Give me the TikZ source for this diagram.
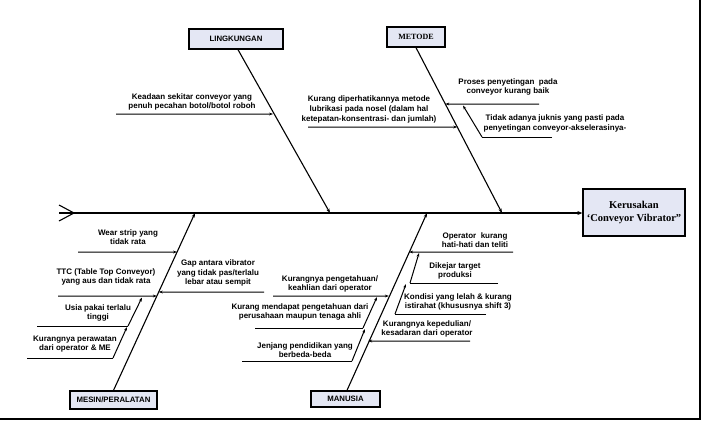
\documentclass[tikz,border=0pt]{standalone}
\usepackage{fontspec}
\setmainfont{Liberation Serif}
\setsansfont{Liberation Sans}
\usetikzlibrary{arrows.meta}
\definecolor{boxfill}{RGB}{228,231,244}
\begin{document}
\begin{tikzpicture}[x=1pt,y=-1pt,
  lbl/.style={font=\sffamily\bfseries\fontsize{8}{9.6}\selectfont, align=center, inner sep=0pt},
  cat/.style={draw, line width=1.3pt, fill=boxfill, font=\sffamily\bfseries\fontsize{7.8}{9}\selectfont, inner sep=0pt},
  bone/.style={line width=1.1pt, -{Stealth[length=4.5pt,width=3.2pt]}},
  sub/.style={line width=1pt, -{Stealth[length=4pt,width=2.8pt]}},
  plain/.style={line width=1pt}]
\useasboundingbox (0,0) rectangle (702,421);
% frame
\coordinate (f0) at (0,419);
\coordinate (f1) at (700,419);
\coordinate (f2) at (700,0);
\draw[line width=1.6pt] (f0) -- (f1) -- (f2);

% boxes
\node[cat, minimum width=94pt, minimum height=20pt] (ling) at (236,39) {LINGKUNGAN};
\node[cat, minimum width=58pt, minimum height=20pt, font=\rmfamily\bfseries\fontsize{8}{9}\selectfont] (met) at (416,37) {METODE};
\node[cat, minimum width=87pt, minimum height=18pt] (mes) at (113.5,400) {MESIN/PERALATAN};
\node[cat, minimum width=69pt, minimum height=16pt] (man) at (345.5,399) {MANUSIA};
\node[cat, minimum width=102pt, minimum height=47pt, align=center, font=\rmfamily\bfseries\fontsize{10.5}{13}\selectfont] (eff) at (634,212.5) {Kerusakan\\‘Conveyor Vibrator”};

% spine
\coordinate (tail) at (59,213);
\coordinate (ta) at (59,205);
\coordinate (tv) at (74,213);
\coordinate (tb) at (59,221);
\draw[line width=1.1pt] (ta) -- (tv) -- (tb);
\draw[line width=1.3pt, -{Stealth[length=5pt,width=4pt]}] (tail) -- (eff.west |- tail);

% main bones
\coordinate (lingE) at (330,213);
\coordinate (metE) at (502,213);
\coordinate (mesE) at (195,213);
\coordinate (manE) at (427,213);
\draw[bone] ([xshift=2pt]ling.south) -- (lingE);
\draw[bone] (met.south) -- (metE);
\draw[bone] (mes.north) -- (mesE);
\draw[bone] ([xshift=1.5pt]man.north) -- (manE);

% ---- LINGKUNGAN
\node[lbl] (l1) at (192,102) {Keadaan sekitar conveyor yang\\penuh pecahan botol/botol roboh};
\coordinate (l1a) at (116,114);
\coordinate (l1b) at (intersection of ling.south--lingE and l1a--{(600,114)});
\draw[sub] (l1a) -- (l1b);

% ---- METODE
\node[lbl] (m1) at (369,109.5) {Kurang diperhatikannya metode\\lubrikasi pada nosel (dalam hal\\ketepatan-konsentrasi- dan jumlah)};
\coordinate (m1a) at (308,127);
\coordinate (m1b) at (intersection of met.south--metE and m1a--{(600,127)});
\draw[sub] (m1a) -- (m1b);

\node[lbl] (m2) at (508,87) {Proses penyetingan\ \ pada\\conveyor kurang baik};
\coordinate (m2a) at (539,104);
\coordinate (m2b) at (intersection of met.south--metE and m2a--{(300,104)});
\draw[sub] (m2a) -- (m2b);

\node[lbl] (m3) at (555,123.5) {Tidak adanya juknis yang pasti pada\\penyetingan conveyor-akselerasinya-};
\coordinate (m3a) at (552,137);
\coordinate (m3b) at (482,137);
\coordinate (m3c) at (463,105.5);
\draw[plain] (m3a) -- (m3b);
\draw[sub] (m3b) -- (m3c);

% ---- MESIN/PERALATAN
\node[lbl] (s1) at (128,237) {Wear strip yang\\tidak rata};
\coordinate (s1a) at (78,252);
\coordinate (s1b) at (intersection of mes.north--mesE and s1a--{(300,252)});
\draw[sub] (s1a) -- (s1b);

\node[lbl] (s2) at (106,277) {TTC (Table Top Conveyor)\\yang aus dan tidak rata};
\coordinate (s2a) at (58,296);
\coordinate (s2b) at (intersection of mes.north--mesE and s2a--{(300,296)});
\draw[sub] (s2a) -- (s2b);

\node[lbl] (s3) at (98,313) {Usia pakai terlalu\\tinggi};
\coordinate (s3a) at (37,326);
\coordinate (s3b) at (128,326);
\coordinate (s3c) at (142,297.5);
\draw[plain] (s3a) -- (s3b);
\draw[sub] (s3b) -- (s3c);

\node[lbl] (s4) at (75,344) {Kurangnya perawatan\\dari operator \& ME};
\coordinate (s4a) at (27,358);
\coordinate (s4b) at (113,358);
\coordinate (s4c) at (127,327);
\draw[plain] (s4a) -- (s4b);
\draw[sub] (s4b) -- (s4c);

\node[lbl] (s5) at (218,273) {Gap antara vibrator\\yang tidak pas/terlalu\\lebar atau sempit};
\coordinate (s5a) at (264,292);
\coordinate (s5b) at (intersection of mes.north--mesE and s5a--{(0,292)});
\draw[sub] (s5a) -- (s5b);

% ---- MANUSIA
\node[lbl] (h1) at (330,284) {Kurangnya pengetahuan/\\keahlian dari operator};
\coordinate (h1a) at (273,296);
\coordinate (h1b) at (intersection of man.north--manE and h1a--{(600,296)});
\draw[sub] (h1a) -- (h1b);

\node[lbl] (h2) at (300,312) {Kurang mendapat pengetahuan dari\\perusahaan maupun tenaga ahli};
\coordinate (h2a) at (255,328);
\coordinate (h2b) at (363,328);
\coordinate (h2c) at (377,297);
\draw[plain] (h2a) -- (h2b);
\draw[sub] (h2b) -- (h2c);

\node[lbl] (h3) at (305,350) {Jenjang pendidikan yang\\berbeda-beda};
\coordinate (h3a) at (242,361);
\coordinate (h3b) at (352,361);
\coordinate (h3c) at (365,329);
\draw[plain] (h3a) -- (h3b);
\draw[sub] (h3b) -- (h3c);

\node[lbl] (h4) at (475,240) {Operator~ kurang\\hati-hati dan teliti};
\coordinate (h4a) at (513,252);
\coordinate (h4b) at (intersection of man.north--manE and h4a--{(300,252)});
\draw[sub] (h4a) -- (h4b);

\node[lbl] (h5) at (455,271) {Dikejar target\\produksi};
\coordinate (h5a) at (498,283);
\coordinate (h5b) at (410,283);
\coordinate (h5c) at (419,253);
\draw[plain] (h5a) -- (h5b);
\draw[sub] (h5b) -- (h5c);

\node[lbl] (h6) at (458,302) {Kondisi yang lelah \& kurang\\istirahat (khususnya shift 3)};
\coordinate (h6a) at (486,314);
\coordinate (h6b) at (395,314);
\coordinate (h6c) at (406,284);
\draw[plain] (h6a) -- (h6b);
\draw[sub] (h6b) -- (h6c);

\node[lbl] (h7) at (427,329) {Kurangnya kepedulian/\\kesadaran dari operator};
\coordinate (h7a) at (470,341);
\coordinate (h7b) at (intersection of man.north--manE and h7a--{(300,341)});
\draw[sub] (h7a) -- (h7b);
\end{tikzpicture}
\end{document}
